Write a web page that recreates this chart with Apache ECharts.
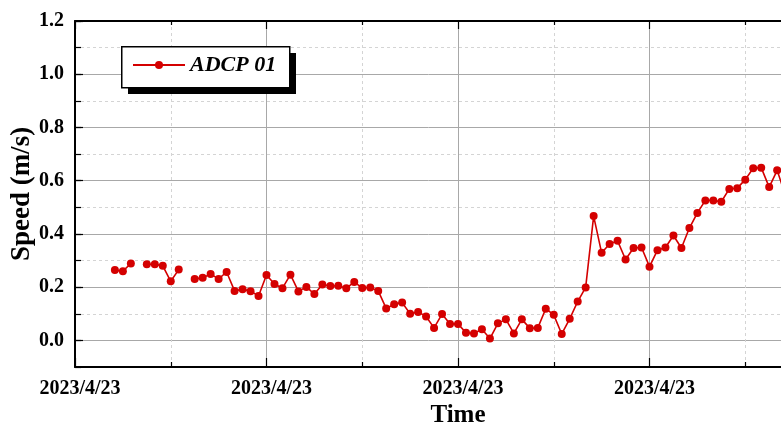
<!DOCTYPE html>
<html>
<head>
<meta charset="utf-8">
<script src="https://cdn.jsdelivr.net/npm/echarts@6/dist/echarts.min.js"></script>
<style>html,body{margin:0;padding:0;background:#fff;}#c{width:781px;height:425px;}</style>
</head>
<body>
<div id="c"></div>
<script>
// sample index along the time axis (24 samples per major tick)
const speed = [
  null, null, null, null, null, 0.264, 0.260, 0.289, null, 0.286,
  0.286, 0.280, 0.222, 0.266, null, 0.231, 0.235, 0.249, 0.231, 0.257,
  0.186, 0.192, 0.185, 0.167, 0.246, 0.212, 0.196, 0.247, 0.184, 0.201,
  0.174, 0.210, 0.204, 0.205, 0.196, 0.219, 0.197, 0.199, 0.186, 0.120,
  0.136, 0.142, 0.100, 0.107, 0.090, 0.047, 0.099, 0.062, 0.062, 0.029,
  0.026, 0.042, 0.007, 0.064, 0.079, 0.026, 0.079, 0.046, 0.047, 0.119,
  0.096, 0.024, 0.081, 0.146, 0.199, 0.467, 0.329, 0.362, 0.374, 0.304,
  0.347, 0.349, 0.277, 0.339, 0.349, 0.394, 0.347, 0.422, 0.479, 0.526,
  0.526, 0.521, 0.569, 0.572, 0.604, 0.647, 0.649, 0.576, 0.639, 0.548
];
const timeTickLabels = ['2023/4/23', '2023/4/23', '2023/4/23', '2023/4/23', '2023/4/23'];
const yMajorTicks = [0, 0.2, 0.4, 0.6, 0.8, 1.0, 1.2];
const seriesName = 'ADCP 01';

const FONT = '"Liberation Serif", "Times New Roman", serif';
const seriesData = speed.map((v, i) => [i, v]);

const chart = echarts.init(document.getElementById('c'), null, {renderer: 'canvas'});
chart.setOption({
  animation: false,
  backgroundColor: '#fff',
  grid: {left: 75, top: 21, right: -60, bottom: 58, outerBoundsMode: 'none', containLabel: false},
  graphic: [
    {type: 'rect', left: 128, top: 53, z: 10, shape: {width: 168, height: 41}, style: {fill: '#000'}},
    {type: 'rect', left: 121, top: 46, z: 11, shape: {width: 168, height: 41}, style: {fill: '#fff', stroke: '#000', lineWidth: 1.5}}
  ],
  legend: {
    left: 132, top: 54,
    z: 20,
    data: [seriesName],
    padding: 0,
    itemWidth: 52, itemHeight: 10, itemGap: 5,
    textStyle: {fontFamily: FONT, fontWeight: 'bold', fontStyle: 'italic', fontSize: 22, color: '#000'}
  },
  xAxis: [{
    type: 'value', min: 0, max: 96, interval: 24, position: 'bottom',
    name: 'Time', nameLocation: 'middle', nameGap: 36, nameMoveOverlap: false,
    nameTextStyle: {fontFamily: FONT, fontWeight: 'bold', fontSize: 25, color: '#000'},
    axisLine: {show: true, onZero: false, lineStyle: {color: '#000', width: 2}},
    axisTick: {show: true, inside: true, length: 9, lineStyle: {color: '#000', width: 1.2}},
    minorTick: {show: true, splitNumber: 2, length: 5, lineStyle: {color: '#000', width: 1.2}},
    axisLabel: {
      fontFamily: FONT, fontWeight: 'bold', fontSize: 20, color: '#000', margin: 12,
      padding: [0, 0, 0, 10],
      formatter: v => timeTickLabels[Math.round(v / 24)] || ''
    },
    splitLine: {show: true, lineStyle: {color: '#a8a8a8', width: 1, type: 'solid'}},
    minorSplitLine: {show: true, lineStyle: {color: '#d4d4d4', width: 1, type: [3, 3]}}
  }, {
    type: 'value', min: 0, max: 96, interval: 24, position: 'top',
    axisLine: {show: true, onZero: false, lineStyle: {color: '#000', width: 2}},
    axisTick: {show: true, inside: true, length: 8, lineStyle: {color: '#000', width: 1.2}},
    minorTick: {show: true, splitNumber: 2, length: 4, lineStyle: {color: '#000', width: 1.2}},
    axisLabel: {show: false},
    splitLine: {show: false}
  }],
  yAxis: [{
    type: 'value', min: -0.1, max: 1.2, interval: 0.1, position: 'left',
    name: 'Speed (m/s)', nameLocation: 'middle', nameGap: 39, nameMoveOverlap: false,
    nameTextStyle: {fontFamily: FONT, fontWeight: 'bold', fontSize: 27, color: '#000'},
    axisLine: {show: true, onZero: false, lineStyle: {color: '#000', width: 2}},
    axisTick: {show: true, inside: true, length: 6, lineStyle: {color: '#000', width: 1.2}},
    axisLabel: {
      fontFamily: FONT, fontWeight: 'bold', fontSize: 20, color: '#000', margin: 11,
      formatter: v => {
        const t = Math.round(v * 10);
        return (t >= 0 && t % 2 === 0) ? (t / 10).toFixed(1) : '';
      }
    },
    splitLine: {show: true, lineStyle: {color: '#d4d4d4', width: 1, type: [3, 3]}}
  }, {
    type: 'value', min: -0.1, max: 1.2, position: 'left',
    axisLine: {show: false},
    axisTick: {show: true, inside: true, length: 8, customValues: yMajorTicks, lineStyle: {color: '#000', width: 1.2}},
    axisLabel: {show: false},
    splitLine: {show: true, lineStyle: {color: '#a8a8a8', width: 1, type: 'solid'}}
  }],
  series: [{
    name: seriesName,
    type: 'line',
    xAxisIndex: 0, yAxisIndex: 0,
    data: seriesData,
    connectNulls: false,
    symbol: 'circle', symbolSize: 8,
    showSymbol: true,
    clip: true,
    itemStyle: {color: '#d40000'},
    lineStyle: {color: '#d40000', width: 1.6}
  }]
});
</script>
</body>
</html>
